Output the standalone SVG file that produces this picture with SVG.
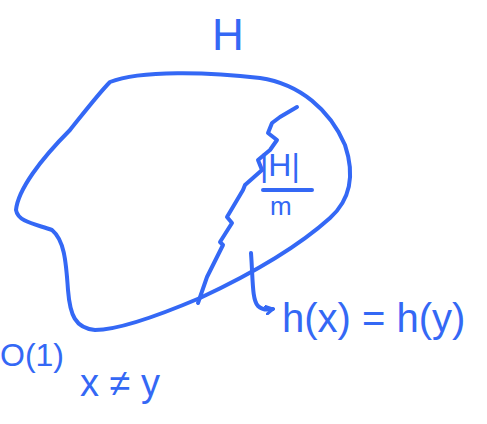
<svg xmlns="http://www.w3.org/2000/svg" width="487" height="424" viewBox="0 0 487 424">
<style>
.ink{fill:none;stroke:#3468f5;stroke-width:4;stroke-linecap:round;stroke-linejoin:round}
.t{fill:#3468f5;font-family:"Liberation Sans",Arial,sans-serif}
</style>
<defs><marker id="ah" markerWidth="10" markerHeight="10" refX="8" refY="5" orient="auto" markerUnits="userSpaceOnUse"><path d="M1,1 L8,5 L1,9" fill="none" stroke="#3468f5" stroke-width="3" stroke-linecap="round"/></marker></defs>
<rect width="487" height="424" fill="#fff"/>
<g id="set">
<path class="ink" d="M110,82 C140,70 210,72 260,78 C300,84 330,110 345,145 C355,175 350,200 330,218 C300,245 260,270 200,298 C160,315 120,330 95,330 C75,328 70,315 68,290 C66,260 64,240 52,230 C35,224 18,222 16,210 C18,190 40,160 70,130 C90,105 100,92 110,82 Z"/>
</g>
<g id="partition">
<path class="ink" d="M198,303 L207,277 L223,245 L220,242 L232,223 L227,217 L243,190 L245,185 L262,170 L258,160 L270,150 L277,140 L268,133 L272,123 L280,117 L297,107"/>
</g>
<g id="labels">
<text class="t" x="260" y="176" font-size="32">|H|</text>
<text class="t" x="212" y="50" font-size="44">H</text>
<line class="ink" x1="263" y1="190" x2="312" y2="190" stroke-width="3"/>
<text class="t" x="270" y="215" font-size="26">m</text>
<text class="t" x="282" y="332" font-size="40">h(x) = h(y)</text>
<text class="t" x="0" y="366" font-size="32">O(1)</text>
<text class="t" x="80" y="396" font-size="38">x ≠ y</text>
</g>
<g id="connectors">
<path class="ink" d="M251,253 C253,280 252,300 258,306 C262,310 268,310 273,309" marker-end="url(#ah)"/>
</g>
</svg>
